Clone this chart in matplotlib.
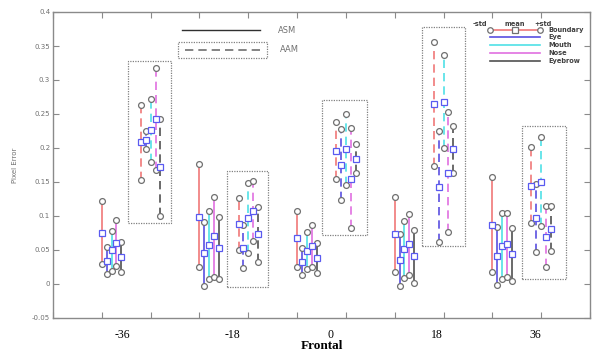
import matplotlib
matplotlib.use("Agg")
import matplotlib.pyplot as plt
from matplotlib.patches import Rectangle
import numpy as np

# ---------------- data ----------------
group_labels = ["-36", "-18", "0", "18", "36"]
features = ["Boundary", "Eye", "Mouth", "Nose", "Eyebrow"]

# rows: groups (-36, -18, 0, 18, 36); cols: Boundary, Eye, Mouth, Nose, Eyebrow
asm_mean = [[0.0745, 0.034, 0.050, 0.0598, 0.040],
            [0.099, 0.045, 0.0574, 0.0706, 0.0525],
            [0.067, 0.0328, 0.049, 0.0559, 0.0378],
            [0.0735, 0.0353, 0.051, 0.0584, 0.041],
            [0.0868, 0.0416, 0.0563, 0.0584, 0.0437]]
asm_lo = [[0.029, 0.0143, 0.0196, 0.0265, 0.0172],
          [0.0246, -0.0025, 0.0074, 0.0108, 0.0069],
          [0.0246, 0.0132, 0.0216, 0.0246, 0.0167],
          [0.018, -0.003, 0.0084, 0.0132, 0.002],
          [0.0172, -0.002, 0.0074, 0.0108, 0.0044]]
asm_hi = [[0.122, 0.054, 0.0784, 0.094, 0.0613],
          [0.176, 0.0917, 0.107, 0.1284, 0.098],
          [0.108, 0.0525, 0.077, 0.0868, 0.0598],
          [0.1284, 0.0735, 0.093, 0.103, 0.0794],
          [0.157, 0.0843, 0.105, 0.105, 0.0819]]

aam_mean = [[0.2084, 0.2118, 0.226, 0.2422, 0.1725],
            [0.0882, 0.0534, 0.0975, 0.1078, 0.0735],
            [0.196, 0.175, 0.198, 0.154, 0.184],
            [0.2647, 0.143, 0.2676, 0.1637, 0.198],
            [0.144, 0.0966, 0.1495, 0.0696, 0.081]]
aam_lo = [[0.153, 0.198, 0.180, 0.1676, 0.100],
          [0.050, 0.023, 0.045, 0.0632, 0.0328],
          [0.154, 0.1235, 0.1456, 0.082, 0.163],
          [0.1735, 0.0622, 0.1995, 0.0765, 0.1628],
          [0.0892, 0.0466, 0.0858, 0.0245, 0.049]]
aam_hi = [[0.2637, 0.225, 0.272, 0.317, 0.243],
          [0.126, 0.0868, 0.149, 0.152, 0.1128],
          [0.2378, 0.228, 0.2496, 0.229, 0.206],
          [0.356, 0.225, 0.337, 0.2525, 0.2328],
          [0.201, 0.147, 0.2166, 0.1152, 0.1152]]

# dotted boxes around AAM groups: (x0, x1, y0, y1)
aam_boxes = [(1.53, 2.41, 0.0893, 0.328),
             (3.57, 4.41, -0.004, 0.1666),
             (5.52, 6.43, 0.072, 0.2706),
             (7.56, 8.43, 0.056, 0.378),
             (9.61, 10.50, 0.0069, 0.2323)]

yticks = [-0.05, 0, 0.05, 0.1, 0.15, 0.2, 0.25, 0.3, 0.35, 0.4]
ytick_labels = ["-0.05", "0", "0.05", "0.1", "0.15", "0.2", "0.25", "0.3", "0.35", "0.4"]
group_label_pos = [1.43, 3.67, 5.69, 7.86, 9.88]

# ---------------- style ----------------
colors = ["#f07878", "#5a4fe0", "#4fe0e6", "#e070e0", "#505050"]
circ_color = "#707070"
sq_color = "#5a5af0"
spine_c = "#8a8a8a"

fig = plt.figure(figsize=(5.92, 3.54), dpi=100)
ax = fig.add_axes([53/592, 1-318/354, 537/592, 306/354])

step = 0.1
for g in range(5):
    for method, (mn, lo, hi, ls, base) in enumerate([
            (asm_mean, asm_lo, asm_hi, "-", 1 + 2*g),
            (aam_mean, aam_lo, aam_hi, (0, (5, 3)), 1.8 + 2*g)]):
        for f in range(5):
            x = base + step*f
            ax.plot([x, x], [lo[g][f], hi[g][f]], color=colors[f], lw=1.2,
                    linestyle=ls, zorder=2)
            ax.plot([x, x], [lo[g][f], hi[g][f]], linestyle="none", marker="o",
                    ms=4.2, mfc="white", mec=circ_color, mew=0.9, zorder=3)
            ax.plot([x], [mn[g][f]], linestyle="none", marker="s",
                    ms=4.3, mfc="white", mec=sq_color, mew=0.9, zorder=4)
    x0, x1, y0, y1 = aam_boxes[g]
    ax.add_patch(Rectangle((x0, y0), x1-x0, y1-y0, fill=False,
                           ec="#808080", lw=0.9, ls=(0, (1, 1)), zorder=1))

ax.set_xlim(0, 11)
ax.set_ylim(-0.05, 0.4)
ax.set_xticks(np.arange(0, 12))
ax.set_xticklabels([])
ax.set_xticks(group_label_pos, group_labels, minor=True)
ax.tick_params(axis="x", which="minor", length=0, pad=8,
               labelsize=8.5, labelcolor="black")
for lab in ax.get_xticklabels(minor=True):
    lab.set_family("Liberation Serif")
ax.tick_params(axis="x", which="major", direction="in", length=4,
               top=True, color=spine_c)
ax.set_yticks(yticks, ytick_labels)
ax.tick_params(axis="y", direction="in", length=4, right=True,
               color=spine_c, labelsize=5, labelcolor="#707070", pad=2)
for s in ax.spines.values():
    s.set_color(spine_c)
    s.set_linewidth(1.0)

ax.set_xlabel("Frontal", family="Liberation Serif", fontweight="bold",
              fontsize=9.5, labelpad=-1)
ax.set_ylabel("Pixel Error", fontsize=5, color="#707070", labelpad=10)

# ---- left legend (ASM / AAM) ----
T = ax.transAxes
ax.plot([0.2397, 0.3855], [0.941, 0.941], color="#303030", lw=1.0,
        transform=T, clip_on=False)
ax.plot([0.246, 0.387], [0.876, 0.876], color="#707070", lw=1.2,
        ls=(0, (5, 3)), transform=T, clip_on=False)
ax.add_patch(Rectangle((0.2328, 0.849), 0.398-0.2328, 0.903-0.849,
                       transform=T, fill=False, ec="#808080", lw=0.9,
                       ls=(0, (1, 1))))
ax.text(0.419, 0.941, "ASM", transform=T, fontsize=6, color="#707070",
        va="center")
ax.text(0.423, 0.876, "AAM", transform=T, fontsize=6, color="#707070",
        va="center")

# ---- right legend (features) ----
leg_y = [0.941, 0.917, 0.892, 0.867, 0.840]
for f in range(5):
    ax.plot([0.814, 0.907], [leg_y[f], leg_y[f]], color=colors[f], lw=1.2,
            transform=T, clip_on=False)
    ax.text(0.922, leg_y[f], features[f], transform=T, fontsize=4.8,
            fontweight="bold", color="#404040", va="center")
ax.plot([0.814, 0.907], [leg_y[0], leg_y[0]], ls="none", marker="o", ms=4,
        mfc="white", mec=circ_color, mew=0.9, transform=T)
ax.plot([0.8605], [leg_y[0]], ls="none", marker="s", ms=4,
        mfc="white", mec=circ_color, mew=0.9, transform=T)
for xx, t in zip([0.795, 0.860, 0.912], ["-std", "mean", "+std"]):
    ax.text(xx, 0.962, t, transform=T, fontsize=4.8, fontweight="bold",
            color="#404040", ha="center", va="center")

fig.savefig("out.png", dpi=100)
